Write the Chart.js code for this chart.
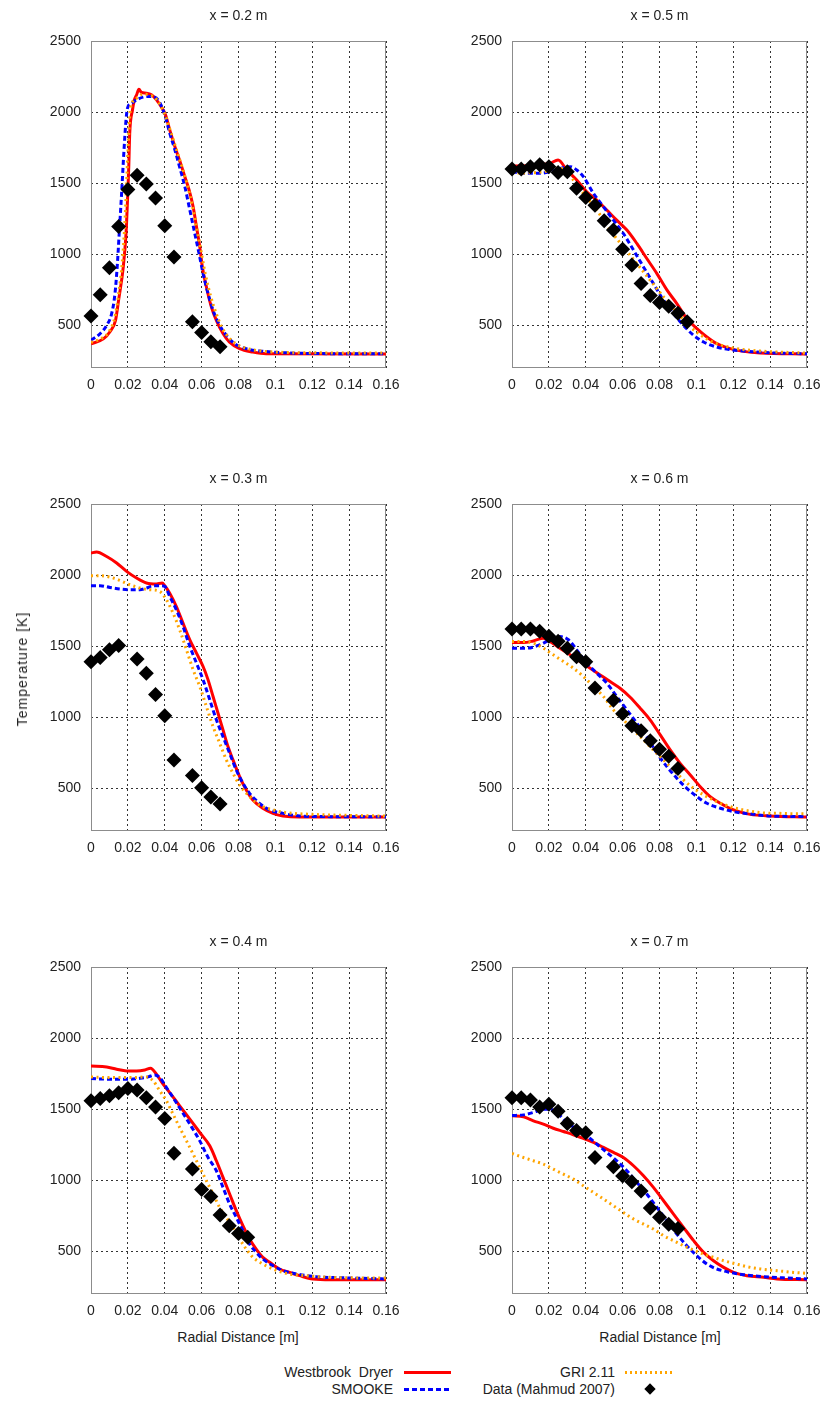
<!DOCTYPE html>
<html>
<head>
<meta charset="utf-8">
<script src="https://cdn.jsdelivr.net/npm/chart.js@4"></script>
<style>
  body { margin: 0; background: #fff; font-family: "Liberation Sans", Arial, sans-serif; color: #222; }
  #page { position: relative; width: 825px; height: 1401px; overflow: hidden; }
  canvas { position: absolute; }
  .lbl { position: absolute; font-size: 14px; line-height: 16px; white-space: pre; }
  .ax { position: absolute; font-size: 14px; white-space: nowrap; transform: translate(-50%, -50%); }
</style>
</head>
<body>
<div id="page">
  <canvas id="p02" width="400" height="398" style="left:0px;top:0px"></canvas>
  <canvas id="p05" width="400" height="398" style="left:421px;top:0px"></canvas>
  <canvas id="p03" width="400" height="398" style="left:0px;top:463px"></canvas>
  <canvas id="p06" width="400" height="398" style="left:421px;top:463px"></canvas>
  <canvas id="p04" width="400" height="398" style="left:0px;top:926px"></canvas>
  <canvas id="p07" width="400" height="398" style="left:421px;top:926px"></canvas>

  <div class="ax" style="left:22px;top:669px;letter-spacing:1px;transform:translate(-50%,-50%) rotate(-90deg)">Temperature [K]</div>
  <div class="ax" style="left:238px;top:1337px">Radial Distance [m]</div>
  <div class="ax" style="left:660px;top:1337px">Radial Distance [m]</div>

  <div class="lbl" style="right:432px;top:1364px">Westbrook  Dryer</div>
  <div style="position:absolute;left:404px;top:1371px;width:47px;height:3px;background:#f00"></div>
  <div class="lbl" style="right:432px;top:1381px">SMOOKE</div>
  <div style="position:absolute;left:404px;top:1388px;width:47px;height:3px;background:repeating-linear-gradient(to right,#00f 0 5px,transparent 5px 8px)"></div>
  <div class="lbl" style="right:210px;top:1364px">GRI 2.11</div>
  <div style="position:absolute;left:625px;top:1371px;width:47px;height:3px;background:repeating-linear-gradient(to right,#ffa500 0 2px,transparent 2px 5px)"></div>
  <div class="lbl" style="right:210px;top:1381px">Data (Mahmud 2007)</div>
  <div style="position:absolute;left:646px;top:1385px;width:8px;height:8px;background:#000;transform:rotate(45deg)"></div>
</div>

<script>
const xTicks = [0, 0.02, 0.04, 0.06, 0.08, 0.1, 0.12, 0.14, 0.16];
const yTicks = [500, 1000, 1500, 2000, 2500];

// x = 0.2 m
const data02 = [[0,565],[0.005,715],[0.01,905],[0.015,1195],[0.02,1455],[0.025,1555],[0.03,1495],[0.035,1395],[0.04,1200],[0.045,980],[0.055,525],[0.06,450],[0.065,385],[0.07,350]];
const wd02 = [[0,370],[0.0067,405],[0.0103,455],[0.0133,535],[0.015,680],[0.0175,910],[0.019,1145],[0.0198,1380],[0.0205,1620],[0.021,1850],[0.0225,2015],[0.0235,2085],[0.0247,2120],[0.026,2160],[0.0274,2138],[0.03,2133],[0.0328,2122],[0.0355,2086],[0.038,2039],[0.0404,1981],[0.0427,1875],[0.0455,1757],[0.048,1663],[0.0509,1546],[0.0532,1452],[0.0554,1334],[0.0572,1193],[0.059,1052],[0.0604,911],[0.0626,770],[0.0653,629],[0.068,535],[0.0716,442],[0.075,383],[0.0806,336],[0.0878,312],[0.095,300],[0.16,298]];
const sm02 = [[0,395],[0.0049,441],[0.0085,500],[0.0112,582],[0.013,723],[0.0142,911],[0.0153,1146],[0.0166,1428],[0.0179,1734],[0.019,1945],[0.0198,2028],[0.022,2063],[0.0247,2086],[0.0283,2105],[0.0328,2110],[0.0364,2086],[0.04,1981],[0.0427,1852],[0.0455,1734],[0.048,1617],[0.0509,1476],[0.0536,1311],[0.0563,1146],[0.0586,1005],[0.0608,864],[0.0635,723],[0.0662,606],[0.0698,500],[0.0734,430],[0.0779,371],[0.0842,336],[0.0915,320],[0.104,308],[0.12,302],[0.16,300]];
const gri02 = [[0,380],[0.006,410],[0.01,460],[0.013,560],[0.015,720],[0.017,950],[0.0185,1250],[0.0195,1550],[0.0203,1800],[0.0212,2000],[0.0225,2070],[0.025,2100],[0.028,2125],[0.032,2120],[0.0355,2090],[0.04,1985],[0.043,1870],[0.046,1750],[0.049,1630],[0.052,1500],[0.055,1340],[0.0575,1170],[0.06,1000],[0.062,860],[0.065,700],[0.068,580],[0.071,485],[0.075,410],[0.08,360],[0.087,330],[0.1,312],[0.12,307],[0.16,305]];

// x = 0.3 m
const data03 = [[0,1390],[0.005,1420],[0.01,1475],[0.015,1505],[0.025,1410],[0.03,1310],[0.035,1160],[0.04,1010],[0.045,700],[0.055,590],[0.06,505],[0.065,440],[0.07,390]];
const wd03 = [[0,2155],[0.003,2162],[0.0085,2131],[0.0139,2085],[0.0193,2026],[0.0247,1979],[0.0301,1944],[0.0355,1937],[0.0386,1944],[0.04,1925],[0.0427,1873],[0.0463,1779],[0.0499,1662],[0.0536,1545],[0.0572,1451],[0.0608,1357],[0.0635,1263],[0.0662,1146],[0.0689,1028],[0.0716,911],[0.0743,794],[0.077,700],[0.0806,583],[0.0842,489],[0.0878,418],[0.0932,360],[0.0987,324],[0.1041,306],[0.1131,298],[0.16,298]];
const sm03 = [[0,1925],[0.0049,1925],[0.0103,1913],[0.0157,1902],[0.0211,1897],[0.0265,1897],[0.0301,1909],[0.0337,1925],[0.0373,1925],[0.04,1920],[0.0427,1850],[0.0463,1756],[0.0499,1639],[0.0536,1498],[0.0572,1381],[0.0608,1263],[0.0644,1123],[0.068,982],[0.0716,864],[0.0752,747],[0.0788,629],[0.0824,536],[0.086,465],[0.0914,395],[0.0969,348],[0.1041,324],[0.1131,306],[0.13,301],[0.16,300]];
const gri03 = [[0,1995],[0.0049,1995],[0.0103,1986],[0.0157,1962],[0.0211,1932],[0.0265,1909],[0.0319,1897],[0.0373,1885],[0.0409,1827],[0.0445,1733],[0.0481,1615],[0.0518,1474],[0.0554,1334],[0.059,1216],[0.0626,1075],[0.0662,935],[0.0698,817],[0.0734,700],[0.077,606],[0.0806,524],[0.086,442],[0.0914,383],[0.0987,348],[0.1059,329],[0.12,317],[0.16,305]];

// x = 0.4 m
const data04 = [[0,1560],[0.005,1575],[0.01,1595],[0.015,1615],[0.02,1645],[0.025,1635],[0.03,1580],[0.035,1515],[0.04,1435],[0.045,1190],[0.055,1080],[0.06,935],[0.065,885],[0.07,755],[0.075,680],[0.08,625],[0.085,600]];
const wd04 = [[0,1804],[0.0085,1797],[0.0139,1781],[0.0193,1769],[0.0247,1769],[0.0292,1776],[0.0323,1788],[0.0355,1746],[0.0391,1676],[0.0427,1617],[0.0481,1523],[0.0536,1430],[0.059,1336],[0.0644,1242],[0.068,1137],[0.0716,1020],[0.0752,903],[0.0788,786],[0.0824,680],[0.086,587],[0.0896,516],[0.0932,458],[0.0969,423],[0.1023,376],[0.1077,352],[0.1131,329],[0.1203,305],[0.13,300],[0.16,300]];
const sm04 = [[0,1715],[0.0085,1711],[0.0193,1710],[0.0265,1717],[0.031,1727],[0.0346,1741],[0.0373,1722],[0.0409,1652],[0.0445,1582],[0.0491,1488],[0.0536,1395],[0.059,1277],[0.0635,1160],[0.068,1067],[0.0716,950],[0.0752,832],[0.0788,739],[0.0824,645],[0.086,551],[0.0896,493],[0.0932,446],[0.0987,399],[0.1041,364],[0.1113,341],[0.1221,322],[0.14,313],[0.16,306]];
const gri04 = [[0,1727],[0.0103,1722],[0.0229,1722],[0.0301,1727],[0.0337,1699],[0.0373,1629],[0.0409,1559],[0.0445,1465],[0.0481,1371],[0.0518,1277],[0.0554,1184],[0.059,1090],[0.0626,996],[0.0662,903],[0.0698,809],[0.0734,739],[0.077,668],[0.0806,587],[0.0842,516],[0.0878,458],[0.0932,411],[0.0987,376],[0.1059,345],[0.1167,329],[0.13,317],[0.16,312]];

// x = 0.5 m
const data05 = [[0,1600],[0.005,1600],[0.01,1615],[0.015,1630],[0.02,1615],[0.025,1575],[0.03,1580],[0.035,1465],[0.04,1400],[0.045,1345],[0.05,1235],[0.055,1170],[0.06,1035],[0.065,925],[0.07,795],[0.075,710],[0.08,660],[0.085,635],[0.09,585],[0.095,525]];
const wd05 = [[0,1621],[0.01,1622],[0.0206,1640],[0.025,1663],[0.0297,1593],[0.0351,1522],[0.0405,1440],[0.046,1381],[0.0514,1311],[0.0568,1240],[0.0623,1170],[0.0677,1076],[0.0731,970],[0.0786,864],[0.084,749],[0.0894,653],[0.0948,547],[0.1003,477],[0.1057,418],[0.1111,371],[0.1184,336],[0.1256,317],[0.1347,305],[0.16,298]];
const sm05 = [[0,1581],[0.0062,1569],[0.0152,1570],[0.0206,1580],[0.026,1604],[0.0315,1616],[0.0351,1593],[0.0387,1546],[0.0442,1428],[0.0496,1334],[0.055,1240],[0.0604,1146],[0.0659,1029],[0.0713,911],[0.0767,794],[0.0822,676],[0.0876,582],[0.093,500],[0.0985,430],[0.1039,383],[0.1111,347],[0.1184,329],[0.1256,319],[0.14,307],[0.16,300]];
const gri05 = [[0,1570],[0.017,1580],[0.0243,1605],[0.0297,1593],[0.0333,1522],[0.0387,1428],[0.046,1311],[0.0532,1170],[0.0604,1052],[0.0677,935],[0.075,817],[0.0822,700],[0.0894,594],[0.0967,489],[0.1039,418],[0.1111,371],[0.122,336],[0.1347,319],[0.16,305]];

// x = 0.6 m
const data06 = [[0,1620],[0.005,1620],[0.01,1620],[0.015,1605],[0.02,1570],[0.025,1535],[0.03,1485],[0.035,1425],[0.04,1390],[0.045,1205],[0.055,1120],[0.06,1025],[0.065,940],[0.07,905],[0.075,835],[0.08,775],[0.085,725],[0.09,640]];
const wd06 = [[0,1525],[0.0062,1525],[0.0116,1537],[0.017,1556],[0.0206,1533],[0.026,1486],[0.0315,1439],[0.0369,1392],[0.0424,1345],[0.0478,1298],[0.0532,1251],[0.0586,1204],[0.0641,1141],[0.0695,1064],[0.0749,982],[0.0804,876],[0.0858,770],[0.0912,676],[0.0967,594],[0.1021,512],[0.1075,442],[0.113,395],[0.1202,348],[0.1292,317],[0.14,306],[0.16,298]];
const sm06 = [[0,1486],[0.008,1486],[0.0152,1510],[0.0206,1545],[0.026,1568],[0.0306,1545],[0.0351,1474],[0.0405,1381],[0.046,1310],[0.0514,1240],[0.0568,1146],[0.0623,1052],[0.0677,958],[0.0731,864],[0.0786,747],[0.084,653],[0.0894,571],[0.0948,500],[0.1003,442],[0.1057,395],[0.113,360],[0.1202,336],[0.129,320],[0.14,306],[0.16,301]];
const gri06 = [[0,1533],[0.0062,1533],[0.0116,1521],[0.017,1486],[0.0224,1439],[0.0279,1392],[0.0333,1345],[0.0387,1287],[0.0442,1216],[0.0496,1146],[0.055,1052],[0.0604,982],[0.0659,911],[0.0713,841],[0.0767,770],[0.0822,700],[0.0876,629],[0.093,559],[0.0985,500],[0.1039,454],[0.1111,407],[0.1184,371],[0.1256,348],[0.1347,329],[0.145,324],[0.16,320]];

// x = 0.7 m
const data07 = [[0,1580],[0.005,1580],[0.01,1565],[0.015,1515],[0.02,1535],[0.025,1485],[0.03,1400],[0.035,1350],[0.04,1335],[0.045,1160],[0.055,1095],[0.06,1030],[0.065,990],[0.07,925],[0.075,805],[0.08,740],[0.085,690],[0.09,660]];
const wd07 = [[0,1453],[0.0062,1446],[0.0116,1418],[0.017,1395],[0.0224,1366],[0.0279,1343],[0.0333,1320],[0.0387,1294],[0.0442,1266],[0.0496,1231],[0.055,1196],[0.0604,1160],[0.0659,1102],[0.0713,1032],[0.0767,950],[0.0822,856],[0.0876,762],[0.093,669],[0.0985,575],[0.1039,493],[0.1093,434],[0.1148,387],[0.1202,352],[0.1274,329],[0.1365,317],[0.1437,306],[0.16,300]];
const sm07 = [[0,1455],[0.0062,1460],[0.0116,1477],[0.017,1500],[0.0206,1500],[0.0252,1465],[0.0297,1406],[0.0351,1360],[0.0405,1313],[0.046,1254],[0.0514,1196],[0.0568,1137],[0.0623,1067],[0.0677,985],[0.0731,903],[0.0786,809],[0.084,715],[0.0894,622],[0.0948,540],[0.1003,469],[0.1057,411],[0.1111,376],[0.1184,352],[0.1256,336],[0.1365,322],[0.148,313],[0.16,306]];
const gri07 = [[0,1188],[0.0062,1160],[0.0116,1137],[0.017,1114],[0.0224,1078],[0.0279,1043],[0.0333,1008],[0.0387,961],[0.0442,914],[0.0496,868],[0.055,821],[0.0604,774],[0.0659,727],[0.0713,692],[0.0767,657],[0.0822,610],[0.0876,575],[0.093,540],[0.0985,509],[0.1039,481],[0.1093,458],[0.1148,434],[0.1202,416],[0.1274,392],[0.1347,376],[0.1437,364],[0.1528,352],[0.16,345]];

const pts = arr => arr.map(p => ({ x: p[0], y: p[1] }));
const font = "'Liberation Sans', Arial, sans-serif";

// grey box around the plot area, like the gnuplot border
const frame = {
  id: "frame",
  beforeDatasetsDraw(chart) {
    const a = chart.chartArea;
    const ctx = chart.ctx;
    ctx.save();
    ctx.strokeStyle = "#8c8c8c";
    ctx.lineWidth = 1;
    ctx.strokeRect(Math.round(a.left) + 0.5, Math.round(a.top) + 0.5, Math.round(a.width) - 1, Math.round(a.height) - 1);
    ctx.restore();
  }
};

function line(label, arr, color, width, dash, order) {
  return {
    label, data: pts(arr), showLine: true, pointRadius: 0,
    borderColor: color, borderWidth: width, borderDash: dash,
    cubicInterpolationMode: "monotone", order
  };
}

function makePanel(id, title, wd, sm, gri, data) {
  new Chart(document.getElementById(id), {
    type: "scatter",
    data: {
      datasets: [
        { label: "Data (Mahmud 2007)", data: pts(data), pointStyle: "rectRot", pointRadius: 7.5,
          backgroundColor: "#000", borderColor: "#000", borderWidth: 0, clip: false, order: 0 },
        line("GRI 2.11", gri, "#ffa500", 3, [2, 3.5], 1),
        line("SMOOKE", sm, "#0000ff", 3, [5, 3], 2),
        line("Westbrook Dryer", wd, "#ff0000", 3, [], 3)
      ]
    },
    options: {
      responsive: false,
      animation: false,
      events: [],
      layout: { padding: { left: 0, right: 14, top: 0, bottom: 0 } },
      plugins: {
        legend: { display: false },
        tooltip: { enabled: false },
        title: {
          display: true, text: title, fullSize: false, color: "#222",
          font: { family: font, size: 14, weight: "normal" },
          padding: { top: 8, bottom: 16.2 }
        }
      },
      scales: {
        x: {
          type: "linear", min: 0, max: 0.16,
          afterBuildTicks: s => { s.ticks = xTicks.map(v => ({ value: v })); },
          afterFit: s => { s.height = 30; s.paddingLeft = 0; s.paddingRight = 0; },
          ticks: {
            callback: v => String(+v.toFixed(2)), padding: 9, color: "#222",
            maxRotation: 0, autoSkip: false,
            font: { family: font, size: 14 }
          },
          grid: { color: "#333", lineWidth: 1, drawTicks: false },
          border: { display: false, dash: [2, 3] }
        },
        y: {
          type: "linear", min: 200, max: 2500,
          afterBuildTicks: s => { s.ticks = yTicks.map(v => ({ value: v })); },
          afterFit: s => { s.width = 91; },
          ticks: {
            callback: v => String(v), padding: 10, color: "#222",
            font: { family: font, size: 14 }
          },
          grid: { color: "#333", lineWidth: 1, drawTicks: false },
          border: { display: false, dash: [2, 3] }
        }
      }
    },
    plugins: [frame]
  });
}

makePanel("p02", "x = 0.2 m", wd02, sm02, gri02, data02);
makePanel("p03", "x = 0.3 m", wd03, sm03, gri03, data03);
makePanel("p04", "x = 0.4 m", wd04, sm04, gri04, data04);
makePanel("p05", "x = 0.5 m", wd05, sm05, gri05, data05);
makePanel("p06", "x = 0.6 m", wd06, sm06, gri06, data06);
makePanel("p07", "x = 0.7 m", wd07, sm07, gri07, data07);
</script>
</body>
</html>
